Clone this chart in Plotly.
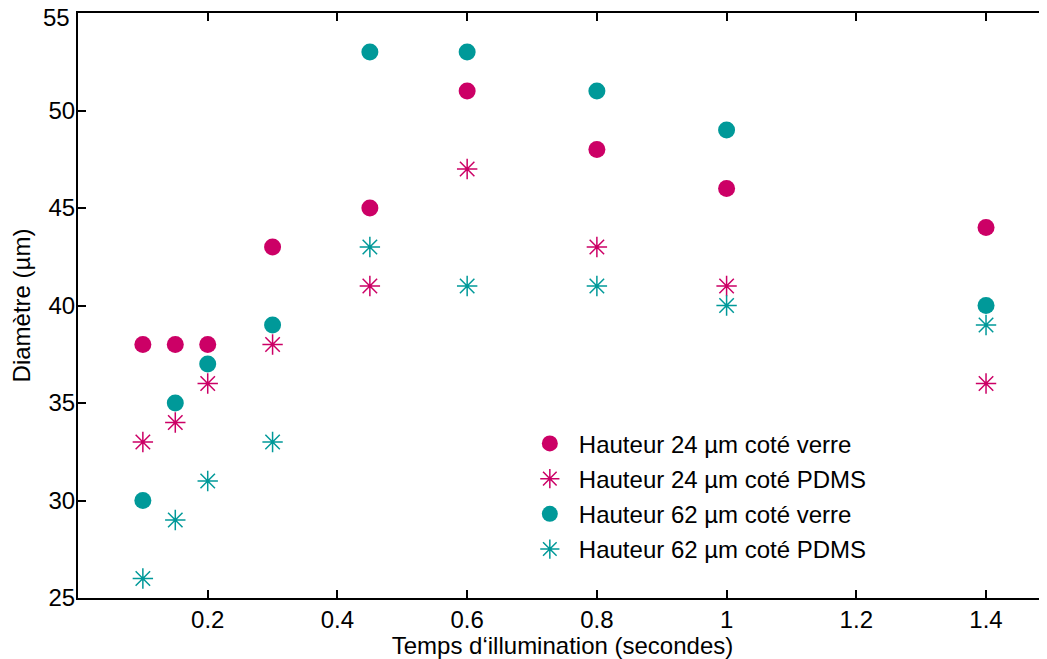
import plotly.graph_objects as go

temps = [0.1, 0.15, 0.2, 0.3, 0.45, 0.6, 0.8, 1.0, 1.4]
h24_verre = [38, 38, 38, 43, 45, 51, 48, 46, 44]
h24_pdms = [33, 34, 36, 38, 41, 47, 43, 41, 36]
h62_verre = [30, 35, 37, 39, 53, 53, 51, 49, 40]
h62_pdms = [26, 29, 31, 33, 43, 41, 41, 40, 39]

x_ticks = [0.2, 0.4, 0.6, 0.8, 1.0, 1.2, 1.4]
x_tick_labels = ["0.2", "0.4", "0.6", "0.8", "1", "1.2", "1.4"]
y_ticks = [25, 30, 35, 40, 45, 50, 55]
y_tick_labels = ["25", "30", "35", "40", "45", "50", ""]  # top label drawn as annotation below
y_top_label = "55"

MAG = "#CC0066"
TEAL = "#009999"
FONT = "Liberation Sans, Arial, sans-serif"

fig = go.Figure()
fig.add_trace(go.Scatter(x=temps, y=h24_verre, mode="markers", name="Hauteur 24 µm coté verre",
                         legendgroup="a",
                         marker=dict(symbol="circle", size=17, color=MAG, line=dict(width=0))))
fig.add_trace(go.Scatter(x=temps, y=h24_pdms, mode="markers", name="Hauteur 24 µm coté PDMS",
                         legendgroup="b",
                         marker=dict(symbol="asterisk-open", size=17, color=MAG, line=dict(width=1.5, color=MAG))))
fig.add_trace(go.Scatter(x=temps, y=h62_verre, mode="markers", name="Hauteur 62 µm coté verre",
                         legendgroup="c",
                         marker=dict(symbol="circle", size=17, color=TEAL, line=dict(width=0))))
fig.add_trace(go.Scatter(x=temps, y=h62_pdms, mode="markers", name="Hauteur 62 µm coté PDMS",
                         legendgroup="d",
                         marker=dict(symbol="asterisk-open", size=17, color=TEAL, line=dict(width=1.5, color=TEAL))))

fig.add_annotation(x=0, xref="paper", y=y_ticks[-1], yref="y", text=y_top_label,
                   showarrow=False, xanchor="right", yanchor="middle",
                   xshift=-6, yshift=-4, font=dict(size=24, family=FONT, color="black"))

fig.update_layout(
    width=1039, height=651,
    margin=dict(l=70, r=0, t=5, b=61),
    paper_bgcolor="white", plot_bgcolor="white",
    font=dict(family=FONT, size=24, color="black"),
    showlegend=True,
    legend=dict(x=0.457, y=0.302, xanchor="left", yanchor="top", itemwidth=48,
                tracegroupgap=1,
                bgcolor="rgba(0,0,0,0)", font=dict(size=24, family=FONT)),
    xaxis=dict(range=[0, 1.494], tickvals=x_ticks, ticktext=x_tick_labels,
               showline=True, linecolor="black", linewidth=2, mirror="ticks",
               ticks="inside", ticklen=8, tickwidth=2, tickcolor="black",
               ticklabelstandoff=-1, automargin=False,
               showgrid=False, zeroline=False,
               title=dict(text="Temps d‘illumination (secondes)", font=dict(size=24), standoff=2)),
    yaxis=dict(range=[25, 55], tickvals=y_ticks, ticktext=y_tick_labels,
               showline=True, linecolor="black", linewidth=2, mirror=False,
               ticks="inside", ticklen=8, tickwidth=2, tickcolor="black",
               ticklabelstandoff=-4, automargin=False,
               showgrid=False, zeroline=False,
               title=dict(text="Diamètre (µm)", font=dict(size=24), standoff=11)),
)

fig.write_html("out.html")
